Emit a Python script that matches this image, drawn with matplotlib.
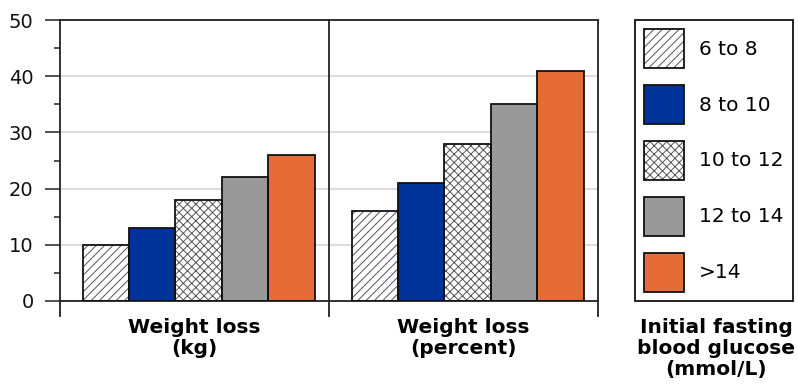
import numpy as np
import matplotlib.pyplot as plt

groups = ["Weight loss\n(kg)", "Weight loss\n(percent)"]
glucose = ["6 to 8", "8 to 10", "10 to 12", "12 to 14", ">14"]
loss_kg = [10, 13, 18, 22, 26]
loss_pct = [16, 21, 28, 35, 41]
colors = ["white", "#003399", "white", "#999999", "#E66C37"]
hatches = ["////", None, "xxxx", None, None]
legend_title = "Initial fasting\nblood glucose\n(mmol/L)"

plt.rcParams['font.family'] = 'DejaVu Sans'
plt.rcParams['hatch.linewidth'] = 0.7

W, H = 798, 387
fig = plt.figure(figsize=(W / 100, H / 100), dpi=100)
ax = fig.add_axes([60 / W, 1 - 301 / H, 538 / W, 281 / H])

values = np.array([loss_kg, loss_pct])
bw = 0.1725
offsets = (np.arange(len(glucose)) - 2) * bw + 0.015

handles = []
for i, lab in enumerate(glucose):
    x = np.arange(len(groups)) + offsets[i]
    # fill + hatch in grey, then a black outline on top
    fill = ax.bar(x, values[:, i], bw, color=colors[i], hatch=hatches[i],
                  edgecolor='#555555', linewidth=0, zorder=2)
    edge = ax.bar(x, values[:, i], bw, fill=False, edgecolor='#111111',
                  linewidth=1.3, zorder=3)
    handles.append((fill.patches[0], edge.patches[0]))

ax.set_xlim(-0.5, 1.5)
ax.set_ylim(0, 50)
ax.set_yticks(range(0, 51, 10))
ax.set_yticks(range(5, 50, 10), minor=True)
ax.tick_params(axis='y', which='major', length=11, width=1.1, pad=8,
               labelsize=14, color='#222222', labelcolor='#111111')
ax.tick_params(axis='y', which='minor', length=4.5, width=1.1, color='#222222')
ax.set_xticks([])
ax.grid(axis='y', color='#dcdcdc', linewidth=1.5)
ax.set_axisbelow(True)

for s in ax.spines.values():
    s.set_linewidth(1.3)
    s.set_color('#222222')
for s in ['left', 'right']:
    ax.spines[s].set_bounds(-2.7, 50)
ax.axvline(0.5, ymin=-2.7 / 50, ymax=1, color='#222222', lw=1.3, clip_on=False)

for i, g in enumerate(groups):
    ax.text(i, -0.06, g, transform=ax.get_xaxis_transform(), ha='center',
            va='top', fontsize=14.5, fontweight='bold', linespacing=1.15)

leg = fig.legend(handles, glucose, loc='upper left',
                 bbox_to_anchor=(635 / W, 1 - 20 / H), borderaxespad=0,
                 fontsize=14.5, handlelength=1.99, handleheight=2.60,
                 handletextpad=0.75, labelspacing=0.84, borderpad=0.45,
                 fancybox=False, framealpha=1)
leg.get_frame().set_edgecolor('#111111')
leg.get_frame().set_linewidth(1.3)

fig.text(716 / W, 1 - 318 / H, legend_title, ha='center', va='top',
         fontsize=14.5, fontweight='bold', linespacing=1.15)

fig.savefig('out.png', dpi=100)
